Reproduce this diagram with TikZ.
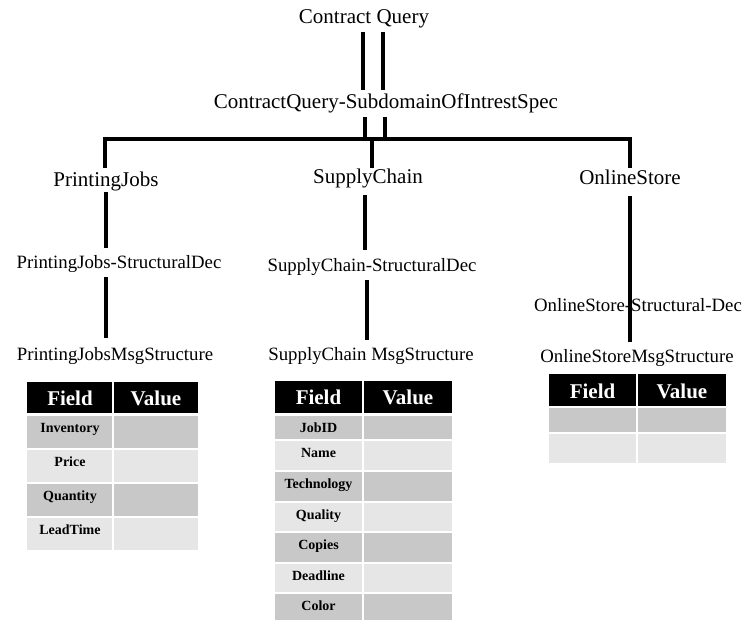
\documentclass[tikz,border=0pt]{standalone}
\usepackage{fontspec}
\setmainfont{Liberation Serif}
\definecolor{rowdark}{RGB}{200,200,200}
\definecolor{rowlight}{RGB}{230,230,230}
\tikzset{
  lbl/.style={inner sep=0pt, anchor=base, text height=14pt, text depth=5pt, font=\fontsize{21}{25}\selectfont},
  sublbl/.style={lbl, font=\fontsize{18.8}{23}\selectfont},
  link/.style={line width=4pt},
  hdrcell/.style={fill=black, draw=white, line width=2pt},
  rowA/.style={fill=rowdark, draw=white, line width=2pt},
  rowB/.style={fill=rowlight, draw=white, line width=2pt},
  hdrtxt/.style={inner sep=0pt, anchor=base, text=white, font=\bfseries\fontsize{21}{25}\selectfont},
  fldtxt/.style={inner sep=0pt, anchor=base, font=\bfseries\fontsize{14}{16}\selectfont}
}
\begin{document}
\begin{tikzpicture}[x=1pt,y=-1pt]
\useasboundingbox (0,0) rectangle (744,620);

% labels
\node[lbl] (cq) at (364,24) {Contract Query};
\node[lbl] (sub) at (386,109) {ContractQuery-SubdomainOfIntrestSpec};
\node[lbl] (pj) at (106,186.5) {PrintingJobs};
\node[lbl] (sc) at (368,184) {SupplyChain};
\node[lbl] (os) at (630,185) {OnlineStore};
\node[sublbl] (pjsd) at (119,269) {PrintingJobs-StructuralDec};
\node[sublbl] (scsd) at (372,272) {SupplyChain-StructuralDec};
\node[sublbl] (ossd) at (638,311) {OnlineStore-Structural-Dec};
\node[sublbl] (pjmsg) at (115,360) {PrintingJobsMsgStructure};
\node[sublbl] (scmsg) at (371,360) {SupplyChain MsgStructure};
\node[sublbl] (osmsg) at (637,362) {OnlineStoreMsgStructure};

\coordinate (bar) at (372,139);

% connectors
\draw[link, shorten <=3pt, shorten >=5pt] ([xshift=-1pt]cq.south) -- ([xshift=-1pt]cq.south |- sub.north);
\draw[link, shorten <=3pt, shorten >=5pt] ([xshift=19pt]cq.south) -- ([xshift=19pt]cq.south |- sub.north);
\draw[link, shorten <=3pt] ([xshift=-21pt]sub.south) -- ([xshift=-21pt]sub.south |- bar);
\draw[link, shorten <=3pt] ([xshift=-1pt]sub.south) -- ([xshift=-1pt]sub.south |- bar);
\draw[link, shorten <=4.5pt, shorten >=3pt] ([xshift=-1pt]pj.north) |- (bar) -| (os.north);
\draw[link, shorten >=2pt] (bar) -- (bar |- sc.north);

\draw[link, shorten <=0.5pt, shorten >=7pt] (pj.south) -- (pj.south |- pjsd.north);
\draw[link, shorten <=3pt, shorten >=8pt] (pj.south |- pjsd.south) -- (pj.south |- pjmsg.north);

\draw[link, shorten <=6pt, shorten >=8pt] ([xshift=-3pt]sc.south) -- ([xshift=-3pt]sc.south |- scsd.north);
\draw[link, shorten <=3pt, shorten >=6pt] ([xshift=-5pt]scsd.south) -- ([xshift=-5pt]scsd.south |- scmsg.north);

\draw[link, shorten <=6pt, shorten >=8pt] (os.south) -- (os.south |- ossd.north);
\draw[link, shorten <=-14pt, shorten >=6pt] (os.south |- ossd.north) -- (os.south |- osmsg.north);

% table 1 (PrintingJobs)
\path[hdrcell] (26,381) rectangle (113,414);
\path[hdrcell] (113,381) rectangle (199,414);
\node[hdrtxt] (t1f) at (70,405) {Field};
\node[hdrtxt] (t1v) at (156,405) {Value};
\foreach \t/\b/\c/\n [count=\i] in {415/449/rowA/Inventory, 449/483/rowB/Price, 483/517/rowA/Quantity, 517/551/rowB/LeadTime} {
  \path[\c] (26,\t) rectangle (113,\b);
  \path[\c] (113,\t) rectangle (199,\b);
  \node[fldtxt] (t1r\i) at (70,\t+17.5) {\n};
}

% table 2 (SupplyChain)
\path[hdrcell] (274,380) rectangle (363,414);
\path[hdrcell] (363,380) rectangle (453,414);
\node[hdrtxt] (t2f) at (318.5,404.5) {Field};
\node[hdrtxt] (t2v) at (408,404.5) {Value};
\foreach \t/\b/\c/\n [count=\i] in {415/440/rowA/JobID, 440/471/rowB/Name, 471/501.5/rowA/Technology, 501.5/532/rowB/Quality, 532/562.5/rowA/Copies, 562.5/593/rowB/Deadline, 593/622/rowA/Color} {
  \path[\c] (274,\t) rectangle (363,\b);
  \path[\c] (363,\t) rectangle (453,\b);
  \node[fldtxt] (t2r\i) at (318.5,\t+17.8) {\n};
}

% table 3 (OnlineStore)
\path[hdrcell] (548,373) rectangle (637,407);
\path[hdrcell] (637,373) rectangle (727,407);
\node[hdrtxt] (t3f) at (592.5,398) {Field};
\node[hdrtxt] (t3v) at (682,398) {Value};
\path[rowA] (548,407) rectangle (637,433);
\path[rowA] (637,407) rectangle (727,433);
\path[rowB] (548,433) rectangle (637,464);
\path[rowB] (637,433) rectangle (727,464);
\end{tikzpicture}
\end{document}
